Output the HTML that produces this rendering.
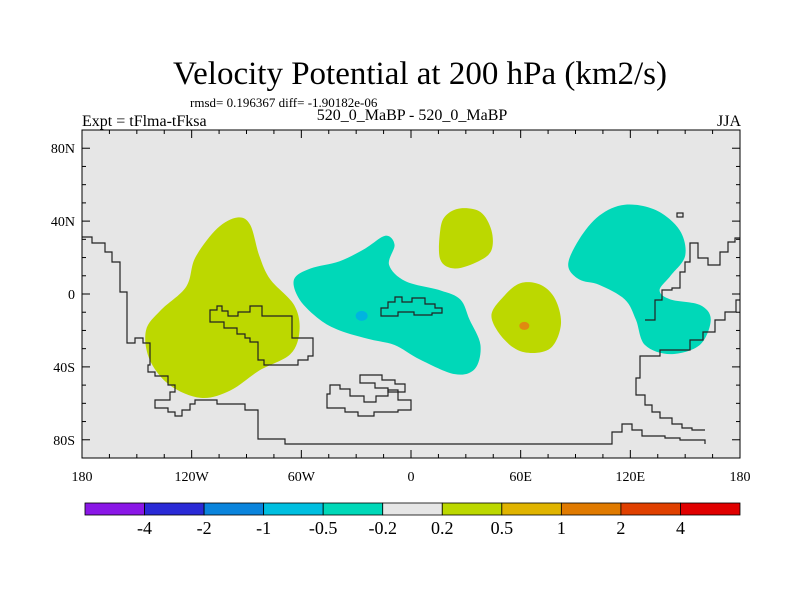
<!DOCTYPE html>
<html><head><meta charset="utf-8"><style>
body{margin:0;background:#fff;}
svg{display:block;font-family:"Liberation Serif",serif;}
</style></head><body>
<svg id="chart" width="800" height="600" viewBox="0 0 800 600">
<text x="420" y="84" font-size="33" text-anchor="middle">Velocity Potential at 200 hPa (km2/s)</text>
<text x="190" y="107" font-size="13">rmsd= 0.196367 diff= -1.90182e-06</text>
<text x="82" y="126" font-size="16">Expt = tFlma-tFksa</text>
<text x="412" y="120" font-size="16" text-anchor="middle">520_0_MaBP - 520_0_MaBP</text>
<text x="741" y="126" font-size="16" text-anchor="end">JJA</text>
<rect x="82" y="130" width="658" height="328" fill="#e6e6e6"/>
<g id="blobs"></g>
<g fill="none" stroke="#222" stroke-width="1.2">
<path d="M82,237 L92,237 L92,243 L105,243 L105,252 L112,252 L112,262 L120,262 L120,292 L127,292 L127,343 L135,343 L135,338 L143,338 L143,343 L150,343 L150,365 L148,365 L148,372 L155,372 L155,376 L168,376 L168,385 L175,385 L175,392 L170,392 L170,400 L155,400 L155,408 L168,408 L168,412 L175,412 L175,416 L182,416 L182,410 L190,410 L190,404 L195,404 L195,400 L217,400 L217,404 L245,404 L245,410 L258,410 L258,439 L285,439 L285,444 L612,444 L612,432 L622,432 L622,424 L632,424 L632,430 L642,430 L642,436 L665,436 L665,438 L680,438 L680,440 L705,440 L705,444"/>
<path d="M210,310 L217,310 L217,306 L222,306 L222,311 L228,311 L228,316 L238,316 L238,312 L250,312 L250,306 L262,306 L262,316 L292,316 L292,338 L313,338 L313,356 L308,356 L308,360 L298,360 L298,365 L264,365 L264,360 L258,360 L258,342 L250,342 L250,338 L245,338 L245,334 L237,334 L237,328 L224,328 L224,322 L210,322 Z"/>
<path d="M381,308 L388,308 L388,302 L395,302 L395,297 L402,297 L402,302 L412,302 L412,298 L425,298 L425,304 L435,304 L435,308 L442,308 L442,313 L432,313 L432,315 L414,315 L414,312 L398,312 L398,316 L381,316 Z"/>
<path d="M327,394 L330,394 L330,385 L340,385 L340,389 L350,389 L350,396 L364,396 L364,402 L376,402 L376,396 L388,396 L388,390 L398,390 L398,400 L411,400 L411,410 L398,410 L398,412 L374,412 L374,416 L358,416 L358,412 L345,412 L345,408 L327,408 Z"/>
<path d="M360,375 L382,375 L382,380 L395,380 L395,384 L405,384 L405,392 L388,392 L388,388 L375,388 L375,383 L360,383 Z"/>
<path d="M645,320 L655,320 L655,300 L662,300 L662,290 L672,290 L672,288 L680,288 L680,272 L685,272 L685,262 L690,262 L690,243 L698,243 L698,258 L708,258 L708,265 L720,265 L720,252 L728,252 L728,242 L735,242 L735,238 L740,238"/>
<path d="M740,300 L736,300 L736,312 L725,312 L725,320 L715,320 L715,332 L703,332 L703,340 L690,340 L690,350 L660,350 L660,356 L640,356 L640,378 L636,378 L636,395 L645,395 L645,405 L652,405 L652,412 L660,412 L660,418 L672,418 L672,424 L682,424 L682,428 L692,428 L692,430 L705,430"/>
<rect x="677" y="213" width="6" height="4"/>
</g>
<rect x="82" y="130" width="658" height="328" fill="none" stroke="#000" stroke-width="1"/>
<g id="axes" font-size="13"></g>
<g id="colorbar"></g>
</svg>
<script>
const NS='http://www.w3.org/2000/svg';
const lonTicks=[-180,-120,-60,0,60,120,180];
const lonLabels=['180','120W','60W','0','60E','120E','180'];
const latTicks=[80,40,0,-40,-80];
const latLabels=['80N','40N','0','40S','80S'];
const levels=['-4','-2','-1','-0.5','-0.2','0.2','0.5','1','2','4'];
const levelColors=['#8a17e6','#2a2ad6','#0a84dc','#00bfe0','#00d8b8','#e6e6e6','#bcd800','#e0b400','#e07a00','#e04000','#e00000'];
const blobGreenW={lon:[-145,-143,-132,-115,-99,-83,-66,-61,-64,-77,-83,-88,-95,-106,-118,-123,-137],lat:[-20,-36,-50,-57,-53,-42,-33,-20,-6,8,21,38,42,36,20,4,-9],color:'#bcd800'};
const blobCyanC={lon:[-64,-55,-39,-25,-14,-9,-12,-3,16,27,32,38,35,24,5,-9,-22,-39,-50,-61],lat:[8,14,18,25,32,27,16,7,2,-3,-14,-28,-41,-44,-36,-28,-25,-20,-14,-3],color:'#00d8b8'};
const blobGreenN={lon:[16,19,27,38,44,44,37,24,16],lat:[35,43,47,45,35,24,18,14,19],color:'#bcd800'};
const blobGreenE={lon:[44,51,60,71,79,82,76,62,51],lat:[-12,-1,6,5,-3,-17,-30,-32,-25],color:'#bcd800'};
const blobCyanE={lon:[86,92,103,117,134,147,150,142,136,142,158,164,158,142,128,123,117,103,92],lat:[16,30,43,49,46,35,21,10,2,-3,-6,-14,-28,-33,-28,-14,-3,5,8],color:'#00d8b8'};
const blobs=[blobGreenW,blobCyanC,blobGreenN,blobGreenE,blobCyanE];
const dots=[{lon:-27,lat:-12,r:5,color:'#00b4e0'},{lon:62,lat:-17.5,r:4,color:'#e08a10'}];
const X0=82,X1=740,Y0=130,Y1=458;
function xs(lon){return X0+(lon+180)/360*(X1-X0);}
function ys(lat){return Y0+(90-lat)/180*(Y1-Y0);}
function el(t,a,p){const e=document.createElementNS(NS,t);for(const k in a)e.setAttribute(k,a[k]);p.appendChild(e);return e;}
const bg=document.getElementById('blobs');
function smooth(pts){let d='';const n=pts.length;for(let i=0;i<n;i++){const p0=pts[(i-1+n)%n],p1=pts[i],p2=pts[(i+1)%n],p3=pts[(i+2)%n];if(i==0)d+='M'+p1[0]+','+p1[1];const c1=[p1[0]+(p2[0]-p0[0])/6,p1[1]+(p2[1]-p0[1])/6],c2=[p2[0]-(p3[0]-p1[0])/6,p2[1]-(p3[1]-p1[1])/6];d+=`C${c1[0]},${c1[1]} ${c2[0]},${c2[1]} ${p2[0]},${p2[1]}`;}return d+'Z';}
blobs.forEach((b,i)=>{const pts=b.lon.map((l,j)=>[xs(l),ys(b.lat[j])]);
const p=el('path',{d:smooth(pts),fill:b.color},bg);

});
dots.forEach((d,i)=>{const c=el('ellipse',{cx:xs(d.lon),cy:ys(d.lat),rx:d.r+1,ry:d.r,fill:d.color},bg);

});
const ax=document.getElementById('axes');
for(let lon=-180;lon<=180;lon+=15){const x=xs(lon),big=lon%60==0;el('line',{x1:x,y1:Y1,x2:x,y2:Y1-(big?8:4),stroke:'#000'},ax);el('line',{x1:x,y1:Y0,x2:x,y2:Y0+(big?8:4),stroke:'#000'},ax);}
for(let lat=-90;lat<=90;lat+=10){const y=ys(lat),big=lat%40==0;el('line',{x1:X0,y1:y,x2:X0+(big?8:4),y2:y,stroke:'#000'},ax);el('line',{x1:X1,y1:y,x2:X1-(big?8:4),y2:y,stroke:'#000'},ax);}
lonTicks.forEach((l,i)=>{const t=el('text',{x:xs(l),y:481,'text-anchor':'middle','font-size':14},ax);t.textContent=lonLabels[i];

});
latTicks.forEach((l,i)=>{const t=el('text',{x:75,y:ys(l)+5,'text-anchor':'end','font-size':14},ax);t.textContent=latLabels[i];

});
const cb=document.getElementById('colorbar');const cx0=85,cx1=740,cw=(cx1-cx0)/levelColors.length;
levelColors.forEach((c,i)=>{const r=el('rect',{x:cx0+i*cw,y:503,width:cw,height:12,fill:c,stroke:'#000','stroke-width':0.8},cb);

});
levels.forEach((s,i)=>{const t=el('text',{x:cx0+(i+1)*cw,y:534,'text-anchor':'middle','font-size':18},cb);t.textContent=s;

});
</script>
</body></html>
